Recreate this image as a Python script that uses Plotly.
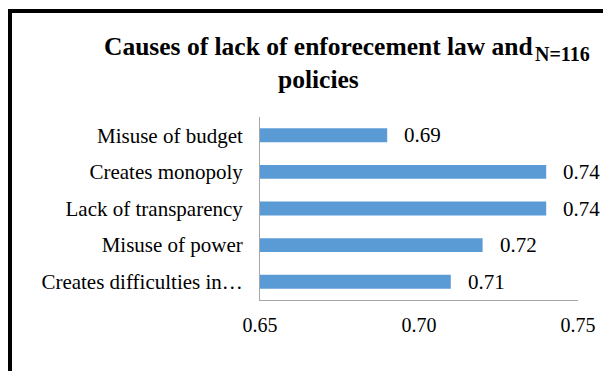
import plotly.graph_objects as go

categories = ["Misuse of budget", "Creates monopoly", "Lack of transparency",
              "Misuse of power", "Creates difficulties in…"]
values = [0.69, 0.74, 0.74, 0.72, 0.71]
value_labels = ["0.69", "0.74", "0.74", "0.72", "0.71"]
x_ticks = [0.65, 0.70, 0.75]
x_tick_labels = ["0.65", "0.70", "0.75"]
title_lines = ["Causes of lack of enforecement law and", "policies"]
n_text = "N=116"

FONT = "Liberation Serif, Times New Roman, serif"
OFF = 8  # page body margin
W, H = 611 - OFF, 371 - OFF
ML, MT = 260 - OFF, 117 - OFF
PR, PB = 578 - OFF, 300 - OFF
MR, MB = W - PR, H - PB
PW, PH = PR - ML, PB - MT


def px_x(p):
    return (p - OFF - ML) / PW


def px_y(p):
    return (PB - (p - OFF)) / PH


fig = go.Figure()
fig.add_trace(go.Bar(
    x=values, y=categories, orientation="h",
    marker=dict(color="#5B9BD5", line=dict(width=0)),
    width=0.38, hoverinfo="skip",
))

for v, c, t in zip(values, categories, value_labels):
    fig.add_annotation(x=v, y=c, xref="x", yref="y", text=t, showarrow=False,
                       xanchor="left", yanchor="middle", xshift=15,
                       font=dict(family=FONT, size=21, color="#000000"))

for line, ypx in zip(title_lines, [46, 79]):
    fig.add_annotation(x=px_x(318), y=px_y(ypx), xref="paper", yref="paper",
                       text="<b>" + line + "</b>", showarrow=False,
                       xanchor="center", yanchor="middle",
                       font=dict(family=FONT, size=25.5, color="#000000"))
fig.add_annotation(x=px_x(533), y=px_y(54), xref="paper", yref="paper",
                   text="<b>" + n_text + "</b>", showarrow=False,
                   xanchor="left", yanchor="middle",
                   font=dict(family=FONT, size=20, color="#000000"))

# outer chart frame (partly cut by the picture edge)
fig.add_shape(type="rect", xref="paper", yref="paper",
              x0=px_x(10), x1=px_x(640), y0=px_y(400), y1=px_y(11),
              line=dict(color="#000000", width=4), fillcolor="rgba(0,0,0,0)",
              layer="above")

fig.update_layout(
    width=W, height=H,
    margin=dict(l=ML, r=MR, t=MT, b=MB, pad=0),
    paper_bgcolor="#FFFFFF", plot_bgcolor="#FFFFFF",
    showlegend=False,
    font=dict(family=FONT, size=21, color="#000000"),
    xaxis=dict(range=[0.65, 0.75], tickvals=x_ticks, ticktext=x_tick_labels,
               showgrid=False, zeroline=False, showline=True,
               linecolor="#A6A6A6", linewidth=1, ticks="",
               ticklabelstandoff=7,
               tickfont=dict(family=FONT, size=20, color="#000000"),
               fixedrange=True),
    yaxis=dict(autorange="reversed", showgrid=False, zeroline=False,
               showline=True, linecolor="#A6A6A6", linewidth=1, ticks="",
               ticklabelstandoff=12,
               tickfont=dict(family=FONT, size=21, color="#000000"),
               fixedrange=True),
)

fig.write_html("out.html", config={"displayModeBar": False})
